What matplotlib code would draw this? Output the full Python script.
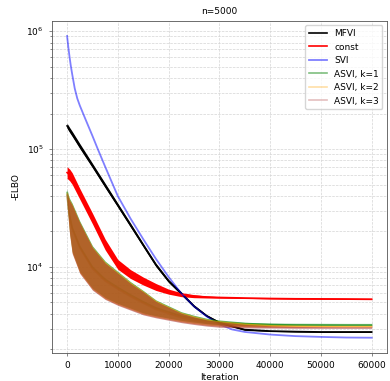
import matplotlib
matplotlib.use("Agg")
import matplotlib.pyplot as plt
import numpy as np

# iteration grid the curves were read at
iters = [0, 250, 500, 1000, 2500, 5000, 7500, 10000, 12500, 15000, 17500,
         20000, 22500, 25000, 27500, 30000, 35000, 40000, 45000, 50000, 55000, 60000]

# MFVI (black), noisy band given as relative half-width
mfvi = [157000, 151000, 145000, 134500, 106000, 72300, 49000, 33300, 22600, 15300, 10400,
        7590, 5960, 4650, 3850, 3370, 2940, 2860, 2830, 2810, 2810, 2810]
mfvi_spread = [0.05, 0.05, 0.05, 0.05, 0.05, 0.045, 0.045, 0.04, 0.04, 0.035, 0.035,
               0.03, 0.03, 0.025, 0.02, 0.02, 0.015, 0.01, 0.01, 0.01, 0.01, 0.01]

# const (red)
const = [63100, 61700, 60300, 56200, 41700, 25700, 15500, 10500, 8700, 7590, 6760,
         6170, 5820, 5650, 5560, 5510, 5450, 5400, 5370, 5360, 5350, 5330]
const_spread = [0.12, 0.12, 0.12, 0.12, 0.11, 0.11, 0.11, 0.10, 0.09, 0.08, 0.07,
                0.05, 0.04, 0.03, 0.02, 0.015, 0.01, 0.01, 0.01, 0.01, 0.01, 0.01]

# SVI (blue), smooth curve read on a denser grid
svi_iters = [0, 250, 500, 750, 1000, 1500, 2000, 2500, 3500, 5000, 6000, 7500, 10000,
             12500, 15000, 17500, 20000, 22500, 25000, 27500, 30000, 32500, 35000,
             40000, 45000, 50000, 55000, 60000]
svi = [908000, 724000, 596000, 501000, 432000, 327000, 269000, 234000, 184000, 129000,
       101000, 70800, 39800, 25700, 17200, 11700, 8220, 5960, 4620, 3800, 3270, 2950,
       2810, 2670, 2590, 2550, 2520, 2510]

# ASVI bands (upper / lower edge of the noise)
asvi1_hi = [45700, 40700, 38000, 34700, 24500, 15100, 11200, 9150, 7500, 6310, 5250,
            4680, 4170, 3890, 3670, 3550, 3400, 3330, 3300, 3290, 3280, 3280]
asvi1_lo = [40000, 25500, 19500, 13500, 9100, 6600, 5500, 4900, 4470, 4070, 3850,
            3680, 3520, 3400, 3300, 3240, 3200, 3190, 3190, 3190, 3190, 3190]
asvi2_hi = [44000, 40000, 37000, 34000, 24000, 14800, 11000, 9000, 7400, 6250, 5200,
            4620, 4120, 3840, 3620, 3500, 3340, 3250, 3210, 3190, 3180, 3180]
asvi2_lo = [39000, 25000, 19000, 13200, 8900, 6450, 5370, 4790, 4370, 3980, 3760,
            3590, 3430, 3310, 3210, 3150, 3110, 3100, 3100, 3100, 3100, 3100]
asvi3_hi = [43000, 39000, 36500, 33500, 23800, 14600, 10800, 8850, 7250, 6150, 5100,
            4550, 4050, 3770, 3560, 3430, 3260, 3170, 3130, 3110, 3100, 3100]
asvi3_lo = [38000, 24500, 18700, 13000, 8800, 6350, 5300, 4720, 4300, 3920, 3700,
            3530, 3370, 3250, 3150, 3080, 3040, 3030, 3020, 3020, 3020, 3020]

plt.rcParams['font.size'] = 6.5

fig = plt.figure(figsize=(3.9, 3.81), dpi=100)
ax = fig.add_axes([0.133, 0.074, 0.859, 0.871])
ax.set_axisbelow(True)

x = np.array(iters)

# MFVI
m = np.array(mfvi)
s = np.array(mfvi_spread)
ax.fill_between(x, m / (1 + s), m * (1 + s), color='black', lw=0)
ax.plot(x, m, color='black', lw=1.2, label='MFVI')

# const
c = np.array(const)
s = np.array(const_spread)
ax.fill_between(x, c / (1 + s), c * (1 + s), color='red', lw=0)
ax.plot(x, c, color='red', lw=1.2, label='const')

# SVI
ax.plot(svi_iters, svi, color='blue', alpha=0.5, lw=1.3, label='SVI')

# ASVI: lines sit under the noise bands, only the flat tails show
bands = [(asvi1_lo, asvi1_hi, 'green', 0.6, 0.5, 'ASVI, k=1'),
         (asvi2_lo, asvi2_hi, 'orange', 0.6, 0.35, 'ASVI, k=2'),
         (asvi3_lo, asvi3_hi, 'brown', 0.55, 0.3, 'ASVI, k=3')]
for lo, hi, col, fa, la, lab in bands:
    lo = np.array(lo)
    hi = np.array(hi)
    ax.fill_between(x, lo, hi, color=col, alpha=fa, lw=0, zorder=2.2)
    ax.plot(x, np.sqrt(lo * hi), color=col, alpha=la, lw=1.2, label=lab, zorder=2.1)

ax.set_yscale('log')
ax.set_xticks([0, 10000, 20000, 30000, 40000, 50000, 60000])
ax.grid(True, which='major', ls='--', lw=0.5, color='#d5d5d5')
ax.grid(True, which='minor', axis='y', ls='--', lw=0.5, color='#d5d5d5')

for sp in ax.spines.values():
    sp.set_linewidth(0.6)
    sp.set_color('#555555')
ax.tick_params(which='both', width=0.5, color='#555555')
ax.tick_params(which='major', length=2.5)
ax.tick_params(which='minor', length=1.5)

ax.set_title('n=5000', fontsize=6.5, pad=5)
ax.set_xlabel('Iteration', labelpad=2)
ax.set_ylabel('-ELBO', labelpad=4)
ax.legend(loc='upper right', fontsize=6.5)

fig.savefig('out.png', dpi=100)
